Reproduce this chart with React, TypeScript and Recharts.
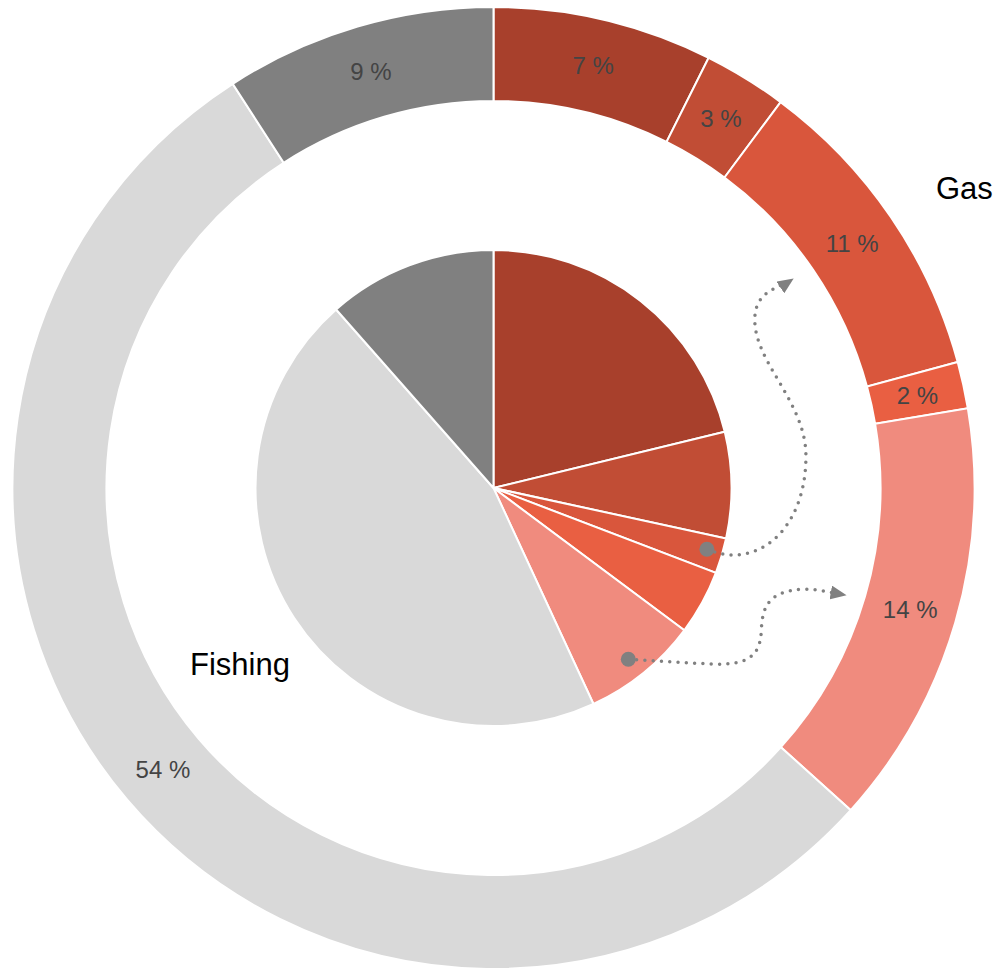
import { Cell, Pie, PieChart } from 'recharts'

const WIDTH = 999
const HEIGHT = 973
const CX = 493.5
const CY = 488
const RING_INNER = 387
const RING_OUTER = 481
const PIE_RADIUS = 238

const FONT = '"Liberation Sans", Arial, Helvetica, sans-serif'
const DOT_GREY = '#808080'

// sectors, clockwise from 12 o'clock
const sectors = ['Oil', 'Coal', 'Gas', 'Nuclear', 'Renewables', 'Fishing', 'Other']
// outer ring shares (labels show them rounded), %
const ringShares = [7.38, 2.8, 10.6, 1.57, 14.33, 54.2, 9.12]
// inner pie shares, %
const pieShares = [21.2, 7.2, 2.4, 4.4, 7.9, 45.4, 11.5]
const sectorColors = ['#a8402c', '#c14d35', '#d9563c', '#e95f42', '#f08b7e', '#d9d9d9', '#808080']

const ringData = sectors.map((name, i) => ({ name, value: ringShares[i] }))
const pieData = sectors.map((name, i) => ({ name, value: pieShares[i] }))

// annotation anchors: angle clockwise from top (deg) and radius (px)
const arrowFrom = [
  { angle: 106, r: 222 },
  { angle: 141.8, r: 218 },
]
const arrowTo = [
  { angle: 55.1, r: 366 },
  { angle: 106.9, r: 369 },
]

const RAD = Math.PI / 180

function polar(angle: number, r: number) {
  return { x: CX + r * Math.sin(angle * RAD), y: CY - r * Math.cos(angle * RAD) }
}

function renderPercent(props: any) {
  const { cx, cy, midAngle, innerRadius, outerRadius, percent } = props
  const r = (innerRadius + outerRadius) / 2
  const x = cx + r * Math.cos(-midAngle * RAD)
  const y = cy + r * Math.sin(-midAngle * RAD)
  return (
    <text
      x={x}
      y={y}
      textAnchor="middle"
      dominantBaseline="central"
      fill="#444444"
      fontSize={24}
      fontFamily={FONT}
    >
      {`${Math.round(percent * 100)} %`}
    </text>
  )
}

function arrowPaths() {
  const s1 = polar(arrowFrom[0].angle, arrowFrom[0].r)
  const e1 = polar(arrowTo[0].angle, arrowTo[0].r)
  const s2 = polar(arrowFrom[1].angle, arrowFrom[1].r)
  const e2 = polar(arrowTo[1].angle, arrowTo[1].r)

  const p1 = [
    `M${s1.x},${s1.y}`,
    `C${s1.x + 50},${s1.y + 22} ${s1.x + 100},${s1.y - 20} ${s1.x + 99},${s1.y - 95}`,
    `C${s1.x + 98},${s1.y - 149} ${s1.x + 45},${s1.y - 189} ${s1.x + 48},${s1.y - 233}`,
    `C${s1.x + 50},${s1.y - 259} ${e1.x - 15},${e1.y + 10} ${e1.x},${e1.y}`,
  ].join(' ')

  const p2 = [
    `M${s2.x},${s2.y}`,
    `L${s2.x + 87},${s2.y + 5}`,
    `C${s2.x + 117},${s2.y + 5} ${s2.x + 132},${s2.y - 1} ${s2.x + 133},${s2.y - 29}`,
    `C${s2.x + 134},${s2.y - 55} ${s2.x + 142},${s2.y - 67} ${s2.x + 172},${s2.y - 70}`,
    `C${s2.x + 187},${s2.y - 71} ${e2.x - 17},${e2.y - 3} ${e2.x},${e2.y}`,
  ].join(' ')

  return [
    { d: p1, start: s1 },
    { d: p2, start: s2 },
  ]
}

export default function App() {
  const arrows = arrowPaths()
  return (
    <div
      style={{
        position: 'absolute',
        left: 0,
        top: 0,
        width: WIDTH,
        height: HEIGHT,
        background: '#ffffff',
      }}
    >
      <PieChart width={WIDTH} height={HEIGHT} margin={{ top: 0, right: 0, bottom: 0, left: 0 }}>
        <Pie
          data={pieData}
          dataKey="value"
          nameKey="name"
          cx={CX}
          cy={CY}
          innerRadius={0}
          outerRadius={PIE_RADIUS}
          startAngle={90}
          endAngle={-270}
          stroke="#ffffff"
          strokeWidth={2}
          isAnimationActive={false}
        >
          {pieData.map((d, i) => (
            <Cell key={d.name} fill={sectorColors[i]} />
          ))}
        </Pie>
        <Pie
          data={ringData}
          dataKey="value"
          nameKey="name"
          cx={CX}
          cy={CY}
          innerRadius={RING_INNER}
          outerRadius={RING_OUTER}
          startAngle={90}
          endAngle={-270}
          stroke="#ffffff"
          strokeWidth={2}
          label={renderPercent}
          labelLine={false}
          isAnimationActive={false}
        >
          {ringData.map((d, i) => (
            <Cell key={d.name} fill={sectorColors[i]} />
          ))}
        </Pie>
      </PieChart>

      <svg
        width={WIDTH}
        height={HEIGHT}
        style={{ position: 'absolute', left: 0, top: 0, pointerEvents: 'none' }}
      >
        <defs>
          <marker
            id="arrow-head"
            viewBox="0 0 16 14"
            refX={16}
            refY={7}
            markerWidth={16}
            markerHeight={14}
            markerUnits="userSpaceOnUse"
            orient="auto"
          >
            <path d="M0,0 L16,7 L0,14 Z" fill={DOT_GREY} />
          </marker>
        </defs>
        {arrows.map((a, i) => (
          <g key={i}>
            <path
              d={a.d}
              fill="none"
              stroke={DOT_GREY}
              strokeWidth={3.5}
              strokeLinecap="round"
              strokeDasharray="0 8.3"
              markerEnd="url(#arrow-head)"
            />
            <circle cx={a.start.x} cy={a.start.y} r={7.5} fill={DOT_GREY} />
          </g>
        ))}
        <text x={936} y={199} fontSize={31} fontFamily={FONT} fill="#000000">
          Gas
        </text>
        <text x={190} y={675} fontSize={31} fontFamily={FONT} fill="#000000">
          Fishing
        </text>
      </svg>
    </div>
  )
}
